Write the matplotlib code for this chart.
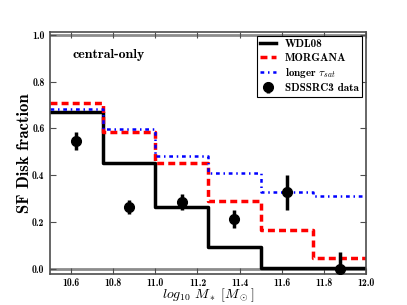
import numpy as np
from matplotlib import pyplot as plt

plt.rcParams['font.family'] = ['cmb10', 'DejaVu Serif']
plt.rcParams['mathtext.fontset'] = 'cm'
plt.rcParams['axes.formatter.use_mathtext'] = False

# bin edges in log10 M*
edges = [10.5, 10.75, 11.0, 11.25, 11.5, 11.75, 12.0]
wdl08 = [0.672, 0.451, 0.265, 0.092, 0.003, 0.003]
morgana = [0.708, 0.584, 0.451, 0.291, 0.166, 0.047]
longer_tau = [0.682, 0.596, 0.482, 0.408, 0.328, 0.310]

sdss_x = [10.625, 10.875, 11.125, 11.375, 11.625, 11.875]
sdss_y = [0.546, 0.263, 0.287, 0.213, 0.327, 0.0]
sdss_err = [0.040, 0.030, 0.035, 0.038, 0.075, 0.070]

fig = plt.figure(figsize=(4.07, 3.05), dpi=100)
ax = fig.add_axes([0.1229, 0.1016, 0.7764, 0.7934])

ax.axhline(0.0, color='0.55', lw=2, zorder=1)
ax.axhline(1.0, color='0.55', lw=2, zorder=1)

ax.step(edges, wdl08 + wdl08[-1:], where='post', color='k', lw=2.5, label='WDL08')
ax.step(edges, morgana + morgana[-1:], where='post', color='red', lw=2.5,
        dashes=(2.0, 1.2), label='MORGANA')
ax.step(edges, longer_tau + longer_tau[-1:], where='post', color='blue', lw=1.8,
        dashes=(1.5, 1.5, 0.6, 1.5), label=r'longer $\tau_{sat}$')
ax.errorbar(sdss_x, sdss_y, yerr=sdss_err, fmt='o', color='k', ms=7, elinewidth=2.5,
            capsize=0, label='SDSSRC3 data', zorder=5)

ax.set_xlim(10.5, 12.0)
ax.set_ylim(-0.022, 1.012)
ax.set_xticks([10.6, 10.8, 11.0, 11.2, 11.4, 11.6, 11.8, 12.0])
ax.set_yticks([0.0, 0.2, 0.4, 0.6, 0.8, 1.0])
ax.set_xticklabels(['10.6', '10.8', '11.0', '11.2', '11.4', '11.6', '11.8', '12.0'])
ax.set_yticklabels(['0.0', '0.2', '0.4', '0.6', '0.8', '1.0'])
ax.tick_params(direction='in', top=True, right=True, labelsize=7, length=4,
               width=0.8, color='0.3')
ax.tick_params(axis='x', pad=3)
ax.tick_params(axis='y', pad=4)
for s in ax.spines.values():
    s.set_color('0.3')
    s.set_linewidth(1.2)

ax.set_ylabel('SF Disk fraction', fontsize=12, labelpad=0)
ax.set_xlabel(r'$log_{10}\ M_*\ [M_\odot]$', fontsize=10, labelpad=-1)
ax.text(0.07, 0.905, 'central-only', transform=ax.transAxes, fontsize=10,
        va='center', ha='left')

leg = ax.legend(loc='upper right', fontsize=8, handlelength=1.4, fancybox=False,
                edgecolor='k', framealpha=1, borderpad=0.3, labelspacing=0.3,
                handletextpad=0.8, borderaxespad=0.35, numpoints=1)
leg.get_frame().set_linewidth(0.8)

fig.savefig('out.png', dpi=100)
